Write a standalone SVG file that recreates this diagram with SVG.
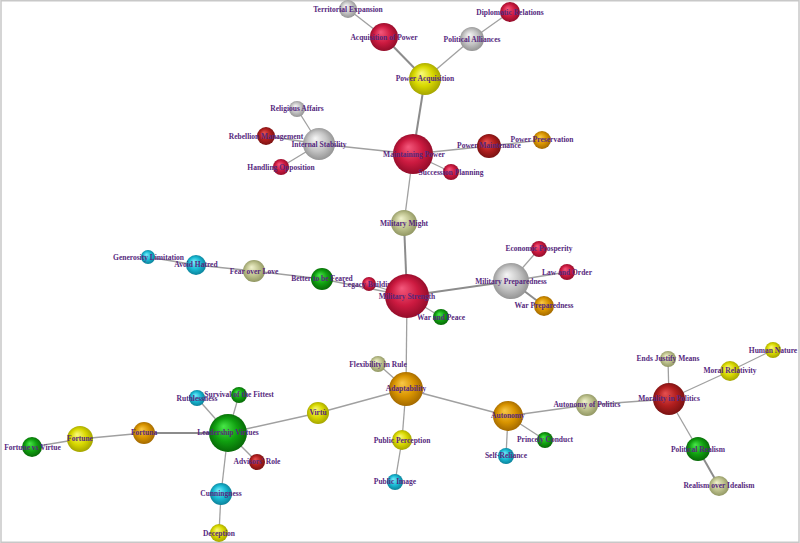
<svg xmlns="http://www.w3.org/2000/svg" width="800" height="543" viewBox="0 0 800 543">
<defs>
<radialGradient id="g-crimson" cx="0.5" cy="0.5" r="0.55" fx="0.38" fy="0.32"><stop offset="0" stop-color="#f4587c"/><stop offset="0.55" stop-color="#cc1a40"/><stop offset="1" stop-color="#8a0a26"/></radialGradient>
<radialGradient id="g-silver" cx="0.5" cy="0.5" r="0.55" fx="0.38" fy="0.32"><stop offset="0" stop-color="#f6f6f6"/><stop offset="0.55" stop-color="#c4c4c4"/><stop offset="1" stop-color="#8c8c8c"/></radialGradient>
<radialGradient id="g-yellow" cx="0.5" cy="0.5" r="0.55" fx="0.38" fy="0.32"><stop offset="0" stop-color="#fafa7a"/><stop offset="0.55" stop-color="#d8d800"/><stop offset="1" stop-color="#9c9c00"/></radialGradient>
<radialGradient id="g-orange" cx="0.5" cy="0.5" r="0.55" fx="0.38" fy="0.32"><stop offset="0" stop-color="#f8c848"/><stop offset="0.55" stop-color="#d89400"/><stop offset="1" stop-color="#9a6200"/></radialGradient>
<radialGradient id="g-olive" cx="0.5" cy="0.5" r="0.55" fx="0.38" fy="0.32"><stop offset="0" stop-color="#f0f2cc"/><stop offset="0.55" stop-color="#bec28e"/><stop offset="1" stop-color="#8a905c"/></radialGradient>
<radialGradient id="g-green" cx="0.5" cy="0.5" r="0.55" fx="0.38" fy="0.32"><stop offset="0" stop-color="#48e848"/><stop offset="0.55" stop-color="#10a010"/><stop offset="1" stop-color="#066006"/></radialGradient>
<radialGradient id="g-cyan" cx="0.5" cy="0.5" r="0.55" fx="0.38" fy="0.32"><stop offset="0" stop-color="#78ecfa"/><stop offset="0.55" stop-color="#18b8d2"/><stop offset="1" stop-color="#0a7890"/></radialGradient>
<radialGradient id="g-darkred" cx="0.5" cy="0.5" r="0.55" fx="0.38" fy="0.32"><stop offset="0" stop-color="#e65050"/><stop offset="0.55" stop-color="#b01e1e"/><stop offset="1" stop-color="#701010"/></radialGradient>
</defs>
<style>
.crimson{fill:url(#g-crimson)}
.silver{fill:url(#g-silver)}
.yellow{fill:url(#g-yellow)}
.orange{fill:url(#g-orange)}
.olive{fill:url(#g-olive)}
.green{fill:url(#g-green)}
.cyan{fill:url(#g-cyan)}
.darkred{fill:url(#g-darkred)}
#edges line{stroke:#a0a0a0;stroke-width:1.3}
#edges line.thick{stroke:#8c8c8c;stroke-width:2}
text{font-family:"Liberation Serif","Times New Roman",serif;font-size:7.5px;font-weight:bold;fill:#56287e;text-anchor:middle}
</style>
<rect x="1" y="0.75" width="798" height="541.5" fill="#fff" stroke="#c8c8c8" stroke-width="1.5"/>
<g id="edges">
<line x1="348" y1="9" x2="384" y2="37"/>
<line class="thick" x1="384" y1="37" x2="425" y2="79"/>
<line x1="510" y1="12" x2="472" y2="39"/>
<line x1="472" y1="39" x2="425" y2="79"/>
<line class="thick" x1="425" y1="79" x2="413" y2="154"/>
<line x1="413" y1="154" x2="319" y2="144"/>
<line x1="319" y1="144" x2="297" y2="109"/>
<line x1="319" y1="144" x2="266" y2="136"/>
<line x1="319" y1="144" x2="281" y2="167"/>
<line x1="413" y1="154" x2="489" y2="146"/>
<line x1="489" y1="146" x2="542" y2="140"/>
<line x1="413" y1="154" x2="451" y2="172"/>
<line x1="413" y1="154" x2="404" y2="223"/>
<line class="thick" x1="404" y1="223" x2="407" y2="296"/>
<line x1="322" y1="279" x2="407" y2="296"/>
<line x1="369" y1="284" x2="407" y2="296"/>
<line x1="254" y1="271" x2="322" y2="279"/>
<line x1="196" y1="265" x2="254" y2="271"/>
<line x1="148" y1="257" x2="196" y2="265"/>
<line class="thick" x1="407" y1="296" x2="511" y2="281"/>
<line x1="511" y1="281" x2="539" y2="249"/>
<line x1="511" y1="281" x2="567" y2="272"/>
<line class="thick" x1="511" y1="281" x2="544" y2="306"/>
<line x1="407" y1="296" x2="441" y2="317"/>
<line x1="407" y1="296" x2="406" y2="389"/>
<line x1="406" y1="389" x2="378" y2="364"/>
<line x1="406" y1="389" x2="402" y2="440"/>
<line x1="402" y1="440" x2="395" y2="482"/>
<line x1="406" y1="389" x2="508" y2="416"/>
<line x1="406" y1="389" x2="318" y2="413"/>
<line x1="508" y1="416" x2="506" y2="456"/>
<line x1="508" y1="416" x2="545" y2="440"/>
<line x1="508" y1="416" x2="587" y2="405"/>
<line x1="587" y1="405" x2="669" y2="399"/>
<line x1="669" y1="399" x2="668" y2="359"/>
<line x1="669" y1="399" x2="730" y2="371"/>
<line x1="730" y1="371" x2="773" y2="350"/>
<line x1="669" y1="399" x2="698" y2="449"/>
<line class="thick" x1="698" y1="449" x2="719" y2="486"/>
<line x1="318" y1="413" x2="228" y2="433"/>
<line x1="228" y1="433" x2="197" y2="398"/>
<line x1="228" y1="433" x2="239" y2="395"/>
<line x1="228" y1="433" x2="257" y2="462"/>
<line x1="228" y1="433" x2="221" y2="494"/>
<line x1="221" y1="494" x2="219" y2="533"/>
<line class="thick" x1="228" y1="433" x2="144" y2="433"/>
<line x1="144" y1="433" x2="80" y2="439"/>
<line x1="80" y1="439" x2="32" y2="447"/>
</g>
<g id="territorial-expansion"><circle class="silver" cx="348" cy="9" r="9"/><text x="348" y="11.7">Territorial Expansion</text></g>
<g id="acquisition-of-power"><circle class="crimson" cx="384" cy="37" r="14"/><text x="384" y="39.7">Acquisition of Power</text></g>
<g id="diplomatic-relations"><circle class="crimson" cx="510" cy="12" r="10"/><text x="510" y="14.7">Diplomatic Relations</text></g>
<g id="political-alliances"><circle class="silver" cx="472" cy="39" r="12"/><text x="472" y="41.7">Political Alliances</text></g>
<g id="power-acquisition"><circle class="yellow" cx="425" cy="79" r="16"/><text x="425" y="81.2">Power Acquisition</text></g>
<g id="religious-affairs"><circle class="silver" cx="297" cy="109" r="8"/><text x="297" y="111.2">Religious Affairs</text></g>
<g id="rebellion-management"><circle class="darkred" cx="266" cy="136" r="9"/><text x="266" y="138.7">Rebellion Management</text></g>
<g id="internal-stability"><circle class="silver" cx="319" cy="144" r="16"/><text x="319" y="146.7">Internal Stability</text></g>
<g id="handling-opposition"><circle class="crimson" cx="281" cy="167" r="8"/><text x="281" y="169.7">Handling Opposition</text></g>
<g id="maintaining-power"><circle class="crimson" cx="413" cy="154" r="20"/><text x="414" y="156.7">Maintaining Power</text></g>
<g id="power-maintenance"><circle class="darkred" cx="489" cy="146" r="12"/><text x="489" y="148.2">Power Maintenance</text></g>
<g id="power-preservation"><circle class="orange" cx="542" cy="140" r="9"/><text x="542" y="142.2">Power Preservation</text></g>
<g id="succession-planning"><circle class="crimson" cx="451" cy="172" r="8"/><text x="451" y="174.7">Succession Planning</text></g>
<g id="military-might"><circle class="olive" cx="404" cy="223" r="13"/><text x="404" y="225.7">Military Might</text></g>
<g id="generosity-limitation"><circle class="cyan" cx="148" cy="257" r="7"/><text x="148.5" y="259.7">Generosity Limitation</text></g>
<g id="avoid-hatred"><circle class="cyan" cx="196" cy="265" r="10"/><text x="196" y="267.2">Avoid Hatred</text></g>
<g id="fear-over-love"><circle class="olive" cx="254" cy="271" r="11"/><text x="254" y="273.7">Fear over Love</text></g>
<g id="better-to-be-feared"><circle class="green" cx="322" cy="279" r="11"/><text x="322" y="281.2">Better to be Feared</text></g>
<g id="legacy-building"><circle class="crimson" cx="369" cy="284" r="7"/><text x="369" y="286.7">Legacy Building</text></g>
<g id="military-strength"><circle class="crimson" cx="407" cy="296" r="22"/><text x="407" y="298.7">Military Strength</text></g>
<g id="economic-prosperity"><circle class="crimson" cx="539" cy="249" r="8"/><text x="539" y="251.2">Economic Prosperity</text></g>
<g id="law-and-order"><circle class="crimson" cx="567" cy="272" r="8"/><text x="567" y="274.7">Law and Order</text></g>
<g id="military-preparedness"><circle class="silver" cx="511" cy="281" r="18"/><text x="511" y="283.7">Military Preparedness</text></g>
<g id="war-preparedness"><circle class="orange" cx="544" cy="306" r="10"/><text x="544" y="308.2">War Preparedness</text></g>
<g id="war-and-peace"><circle class="green" cx="441" cy="317" r="8"/><text x="441" y="319.7">War and Peace</text></g>
<g id="human-nature"><circle class="yellow" cx="773" cy="350" r="8"/><text x="773" y="352.7">Human Nature</text></g>
<g id="ends-justify-means"><circle class="olive" cx="668" cy="359" r="8"/><text x="668" y="361.2">Ends Justify Means</text></g>
<g id="flexibility-in-rule"><circle class="olive" cx="378" cy="364" r="8"/><text x="378" y="366.7">Flexibility in Rule</text></g>
<g id="moral-relativity"><circle class="yellow" cx="730" cy="371" r="10"/><text x="730" y="373.2">Moral Relativity</text></g>
<g id="adaptability"><circle class="orange" cx="406" cy="389" r="17"/><text x="406" y="391.2">Adaptability</text></g>
<g id="morality-in-politics"><circle class="darkred" cx="669" cy="399" r="16"/><text x="669" y="401.2">Morality in Politics</text></g>
<g id="autonomy-of-politics"><circle class="olive" cx="587" cy="405" r="11"/><text x="587" y="406.7">Autonomy of Politics</text></g>
<g id="autonomy"><circle class="orange" cx="508" cy="416" r="15"/><text x="508" y="418.2">Autonomy</text></g>
<g id="princely-conduct"><circle class="green" cx="545" cy="440" r="8"/><text x="545" y="442.2">Princely Conduct</text></g>
<g id="self-reliance"><circle class="cyan" cx="506" cy="456" r="8"/><text x="506" y="458.2">Self-Reliance</text></g>
<g id="public-perception"><circle class="yellow" cx="402" cy="440" r="10"/><text x="402" y="442.7">Public Perception</text></g>
<g id="public-image"><circle class="cyan" cx="395" cy="482" r="8"/><text x="395" y="484.2">Public Image</text></g>
<g id="political-realism"><circle class="green" cx="698" cy="449" r="12"/><text x="698" y="451.7">Political Realism</text></g>
<g id="realism-over-idealism"><circle class="olive" cx="719" cy="486" r="10"/><text x="719" y="488.2">Realism over Idealism</text></g>
<g id="virtu"><circle class="yellow" cx="318" cy="413" r="11"/><text x="318" y="414.7">Virtù</text></g>
<g id="ruthlessness"><circle class="cyan" cx="197" cy="398" r="8"/><text x="197" y="401">Ruthlessness</text></g>
<g id="survival-of-the-fittest"><circle class="green" cx="239" cy="395" r="8"/><text x="239" y="397.2">Survival of the Fittest</text></g>
<g id="leadership-virtues"><circle class="green" cx="228" cy="433" r="19"/><text x="228" y="435.2">Leadership Virtues</text></g>
<g id="advisors-role"><circle class="darkred" cx="257" cy="462" r="8"/><text x="257" y="464.2">Advisors' Role</text></g>
<g id="cunningness"><circle class="cyan" cx="221" cy="494" r="11"/><text x="221" y="495.7">Cunningness</text></g>
<g id="deception"><circle class="yellow" cx="219" cy="533" r="9"/><text x="219" y="535.7">Deception</text></g>
<g id="fortuna"><circle class="orange" cx="144" cy="433" r="11"/><text x="144" y="435.2">Fortuna</text></g>
<g id="fortune"><circle class="yellow" cx="80" cy="439" r="13"/><text x="80" y="441.2">Fortune</text></g>
<g id="fortune-vs-virtue"><circle class="green" cx="32" cy="447" r="10"/><text x="32.5" y="449.7">Fortune vs Virtue</text></g>
</svg>
